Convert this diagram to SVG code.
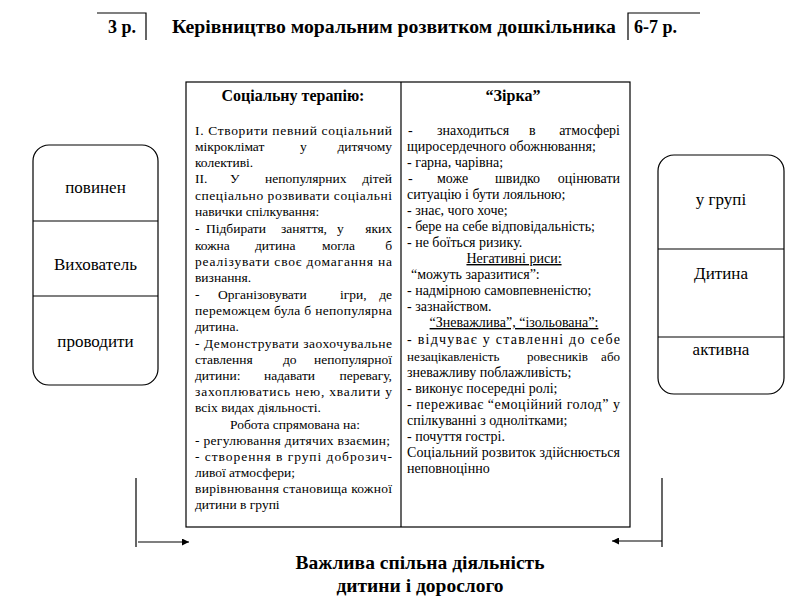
<svg xmlns="http://www.w3.org/2000/svg" width="809" height="610" viewBox="0 0 809 610" font-family="'Liberation Serif', 'Times New Roman', 'DejaVu Serif', serif">
<style>
.ln{stroke:#000;stroke-width:1.2;fill:none}
.b{font-weight:bold;fill:#000}
.t{font-size:13.5px;fill:#000}
#star .t{font-size:14px}
#star .s{font-size:13px}
.bx{font-size:17px;fill:#000;text-anchor:middle}
.c{text-anchor:middle}
.u{text-decoration:underline}
</style>
<defs>
<marker id="ah" viewBox="0 0 10 10" refX="10" refY="5" markerWidth="9" markerHeight="7" orient="auto" markerUnits="userSpaceOnUse">
<path d="M0,0 L10,5 L0,10 Z" fill="#000"/>
</marker>
</defs>
<rect width="809" height="610" fill="#fff"/>

<g id="header">
<path class="ln" d="M97,13 H146 V40"/>
<text class="b" x="108" y="33" font-size="18">3 р.</text>
<text class="b" x="172" y="33" font-size="18" textLength="444" lengthAdjust="spacingAndGlyphs">Керівництво моральним розвитком дошкільника</text>
<path class="ln" d="M628,40 V13 H700"/>
<text class="b" x="634" y="33" font-size="18">6-7 р.</text>
</g>

<g id="educator">
<rect class="ln" x="33" y="145" width="125" height="240" rx="16"/>
<line class="ln" x1="33" y1="221" x2="158" y2="221"/>
<line class="ln" x1="33" y1="296" x2="158" y2="296"/>
<text class="bx" x="95.5" y="193">повинен</text>
<text class="bx" x="95.5" y="270">Вихователь</text>
<text class="bx" x="95.5" y="347">проводити</text>
</g>

<g id="child">
<rect class="ln" x="658" y="155" width="126" height="239" rx="16"/>
<line class="ln" x1="658" y1="249" x2="784" y2="249"/>
<line class="ln" x1="658" y1="337" x2="784" y2="337"/>
<text class="bx" x="721" y="205">у групі</text>
<text class="bx" x="721" y="279">Дитина</text>
<text class="bx" x="721" y="355">активна</text>
</g>

<g id="table">
<rect class="ln" x="186" y="82" width="444" height="445"/>
<line class="ln" x1="401" y1="82" x2="401" y2="527"/>
</g>

<g id="therapy">
<text class="b c" x="293" y="101" font-size="16">Соціальну терапію:</text>
<text class="t" x="195" y="135" textLength="197" lengthAdjust="spacing">I. Створити певний соціальний</text>
<text class="t" x="195" y="151">мікроклімат</text><text class="t" x="300" y="151">у</text><text class="t" x="392" y="151" text-anchor="end">дитячому</text>
<text class="t" x="195" y="167">колективі.</text>
<text class="t" x="195" y="183">II.</text><text class="t" x="230" y="183">У</text><text class="t" x="265" y="183">непопулярних</text><text class="t" x="392" y="183" text-anchor="end">дітей</text>
<text class="t" x="195" y="200" textLength="197" lengthAdjust="spacing">спеціально розвивати соціальні</text>
<text class="t" x="195" y="216">навички спілкування:</text>
<text class="t" x="195" y="233">-</text><text class="t" x="206" y="233">Підбирати</text><text class="t" x="281" y="233">заняття,</text><text class="t" x="337" y="233">у</text><text class="t" x="392" y="233" text-anchor="end">яких</text>
<text class="t" x="195" y="250">кожна</text><text class="t" x="255" y="250">дитина</text><text class="t" x="322" y="250">могла</text><text class="t" x="392" y="250" text-anchor="end">б</text>
<text class="t" x="195" y="266" textLength="197" lengthAdjust="spacing">реалізувати своє домагання на</text>
<text class="t" x="195" y="282">визнання.</text>
<text class="t" x="195" y="299">-</text><text class="t" x="218" y="299">Організовувати</text><text class="t" x="340" y="299">ігри,</text><text class="t" x="392" y="299" text-anchor="end">де</text>
<text class="t" x="195" y="315" textLength="197" lengthAdjust="spacing">переможцем була б непопулярна</text>
<text class="t" x="195" y="331">дитина.</text>
<text class="t" x="195" y="348" textLength="197" lengthAdjust="spacing">- Демонструвати заохочувальне</text>
<text class="t" x="195" y="364">ставлення</text><text class="t" x="283" y="364">до</text><text class="t" x="392" y="364" text-anchor="end">непопулярної</text>
<text class="t" x="195" y="380">дитини:</text><text class="t" x="264" y="380">надавати</text><text class="t" x="392" y="380" text-anchor="end">перевагу,</text>
<text class="t" x="195" y="396" textLength="197" lengthAdjust="spacing">захоплюватись нею, хвалити у</text>
<text class="t" x="195" y="412">всіх видах діяльності.</text>
<text class="t c" x="295" y="429">Робота спрямована на:</text>
<text class="t" x="195" y="445" textLength="195" lengthAdjust="spacing">- регулювання дитячих взаємин;</text>
<text class="t" x="195" y="461" textLength="197" lengthAdjust="spacing">- створення в групі доброзич-</text>
<text class="t" x="195" y="477">ливої атмосфери;</text>
<text class="t" x="195" y="493" textLength="197" lengthAdjust="spacing">вирівнювання становища кожної</text>
<text class="t" x="195" y="509">дитини в групі</text>
</g>

<g id="star">
<text class="b c" x="513" y="101" font-size="16">“Зірка”</text>
<text class="t" x="408" y="135">-</text><text class="t" x="437" y="135">знаходиться</text><text class="t" x="529" y="135">в</text><text class="t" x="620" y="135" text-anchor="end">атмосфері</text>
<text class="t" x="407" y="151">щиросердечного обожнювання;</text>
<text class="t" x="407" y="167">- гарна, чарівна;</text>
<text class="t" x="408" y="183">-</text><text class="t" x="437" y="183">може</text><text class="t" x="495" y="183">швидко</text><text class="t" x="620" y="183" text-anchor="end">оцінювати</text>
<text class="t" x="407" y="199">ситуацію і бути лояльною;</text>
<text class="t" x="407" y="215">- знає, чого хоче;</text>
<text class="t" x="407" y="231">- бере на себе відповідальність;</text>
<text class="t" x="407" y="247">- не боїться ризику.</text>
<text class="t c u" x="514" y="263">Негативні риси:</text>
<text class="t" x="411" y="279">“можуть заразитися”:</text>
<text class="t" x="407" y="295">- надмірною самовпевненістю;</text>
<text class="t" x="407" y="311">- зазнайством.</text>
<text class="t c u" x="514" y="327">“Зневажлива”, “ізольована”:</text>
<text class="t" x="407" y="344" textLength="213" lengthAdjust="spacing">- відчуває у ставленні до себе</text>
<text class="t s" x="407" y="361">незацікавленість</text><text class="t s" x="527" y="361">ровесників</text><text class="t s" x="620" y="361" text-anchor="end">або</text>
<text class="t" x="407" y="377">зневажливу поблажливість;</text>
<text class="t" x="407" y="393">- виконує посередні ролі;</text>
<text class="t" x="407" y="409" textLength="213" lengthAdjust="spacing">- переживає “емоційний голод” у</text>
<text class="t" x="407" y="425">спілкуванні з однолітками;</text>
<text class="t" x="407" y="441">- почуття гострі.</text>
<text class="t" x="407" y="457" textLength="213" lengthAdjust="spacing">Соціальний розвиток здійснюється</text>
<text class="t" x="407" y="473">неповноцінно</text>
</g>

<g id="connectors">
<line class="ln" x1="136" y1="478" x2="136" y2="547"/>
<line class="ln" x1="138" y1="542" x2="189" y2="542" marker-end="url(#ah)"/>
<line class="ln" x1="662" y1="478" x2="662" y2="547"/>
<line class="ln" x1="662" y1="541" x2="612" y2="541" marker-end="url(#ah)"/>
</g>

<g id="footer">
<text class="b c" x="420" y="569" font-size="19.5">Важлива спільна діяльність</text>
<text class="b c" x="420" y="592" font-size="19.5">дитини і дорослого</text>
</g>
</svg>
